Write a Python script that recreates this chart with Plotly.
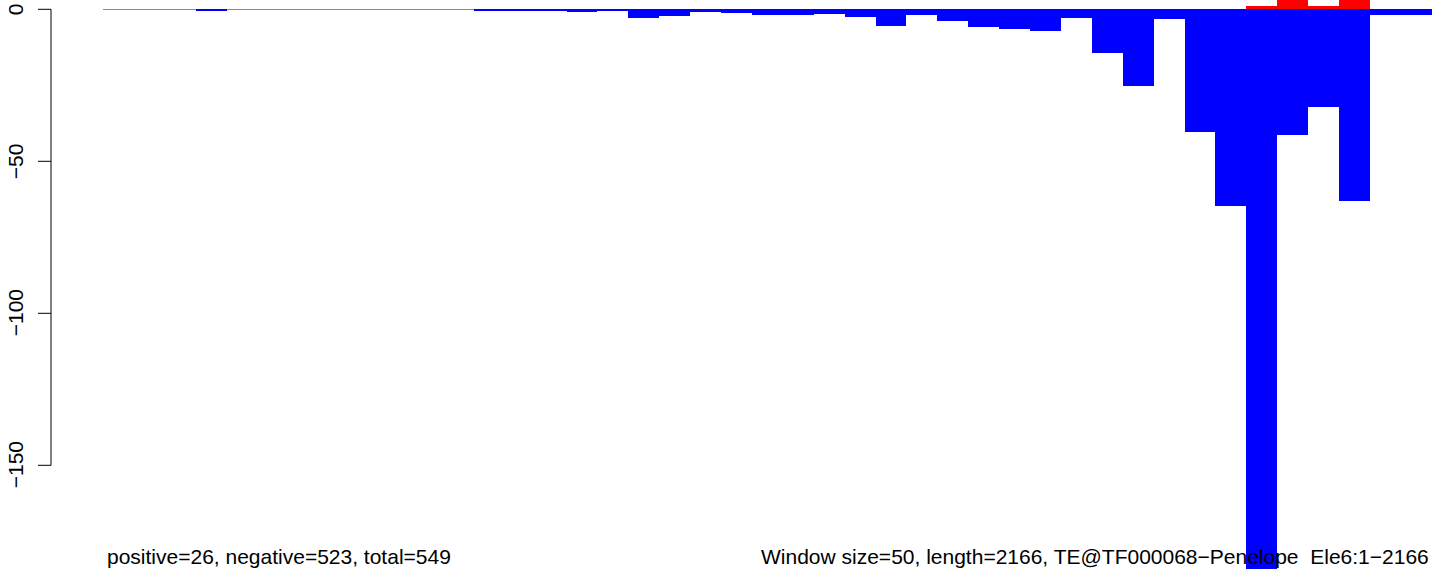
import plotly.graph_objects as go

# ---- data ----
window_size = 50
window_start = list(range(0, 2150, window_size))  # 43 windows

negative = [0, 0, 0, -0.3, 0, 0, 0, 0, 0, 0,
            0, 0, -0.3, -0.45, -0.25, -0.9, -0.65, -2.8, -2.1, -0.9,
            -1.2, -1.8, -1.8, -1.5, -2.4, -5.4, -1.9, -3.7, -5.7, -6.4,
            -7.0, -2.8, -14.3, -25.2, -3.2, -40.4, -64.7, -185.0, -41.3, -32.1,
            -63.1, -1.8, -1.8]
positive = [0] * 37 + [1, 12, 1, 12, 0, 0]

ytick_vals = [0, -50, -100, -150]
ytick_text = ["0", "\u221250", "\u2212100", "\u2212150"]

left_note = "positive=26, negative=523, total=549"
right_note = "Window size=50, length=2166, TE@TF000068\u2212Penelope  Ele6:1\u22122166"

# ---- layout constants ----
W, H = 1433, 569
FONT = "Liberation Sans, Arial, Helvetica, sans-serif"
px_per_unit = 3.04
zero_px = 9.3
y_top = zero_px / px_per_unit
y_bot = -(H - zero_px) / px_per_unit

centers = [s + window_size / 2 for s in window_start]

fig = go.Figure()
fig.add_trace(go.Bar(x=centers, y=negative, width=window_size,
                     marker=dict(color="#0000FF", line=dict(width=0)),
                     hoverinfo="skip"))
fig.add_trace(go.Bar(x=centers, y=positive, width=window_size,
                     marker=dict(color="#FF0000", line=dict(width=0)),
                     hoverinfo="skip"))

axis_x = 51 / W
tick_len = 13 / W

shapes = [dict(type="line", xref="paper", yref="y",
               x0=axis_x, x1=axis_x, y0=ytick_vals[0], y1=ytick_vals[-1],
               line=dict(color="black", width=1))]
for v in ytick_vals:
    shapes.append(dict(type="line", xref="paper", yref="y",
                       x0=axis_x - tick_len, x1=axis_x, y0=v, y1=v,
                       line=dict(color="black", width=1)))

annotations = []
for v, t in zip(ytick_vals, ytick_text):
    annotations.append(dict(xref="paper", yref="y", x=15 / W, y=v, text=t,
                            showarrow=False, textangle=-90,
                            xanchor="center", yanchor="middle",
                            font=dict(family=FONT, size=21, color="black")))
annotations.append(dict(xref="paper", yref="paper", x=105 / W, y=1 - 556 / H,
                        text=left_note, showarrow=False,
                        xanchor="left", yanchor="middle",
                        font=dict(family=FONT, size=21, color="black")))
annotations.append(dict(xref="paper", yref="paper", x=1431 / W, y=1 - 556 / H,
                        text=right_note, showarrow=False,
                        xanchor="right", yanchor="middle",
                        font=dict(family=FONT, size=21, color="black")))

fig.update_layout(
    width=W, height=H,
    margin=dict(l=0, r=0, t=0, b=0, pad=0),
    paper_bgcolor="white", plot_bgcolor="white",
    barmode="overlay", bargap=0,
    showlegend=False,
    xaxis=dict(domain=[103.3 / W, 1432 / W], range=[0, len(window_start) * window_size],
               showgrid=False, zeroline=False, showticklabels=False,
               ticks="", showline=False, fixedrange=True),
    yaxis=dict(domain=[0, 1], range=[y_bot, y_top],
               showgrid=False, zeroline=True, zerolinecolor="#8C8C8C",
               zerolinewidth=1, showticklabels=False, ticks="",
               showline=False, fixedrange=True),
    shapes=shapes,
    annotations=annotations,
)

fig.write_html("out.html", config={"displayModeBar": False},
               post_script="document.body.style.margin='0';document.body.style.overflow='hidden';")
